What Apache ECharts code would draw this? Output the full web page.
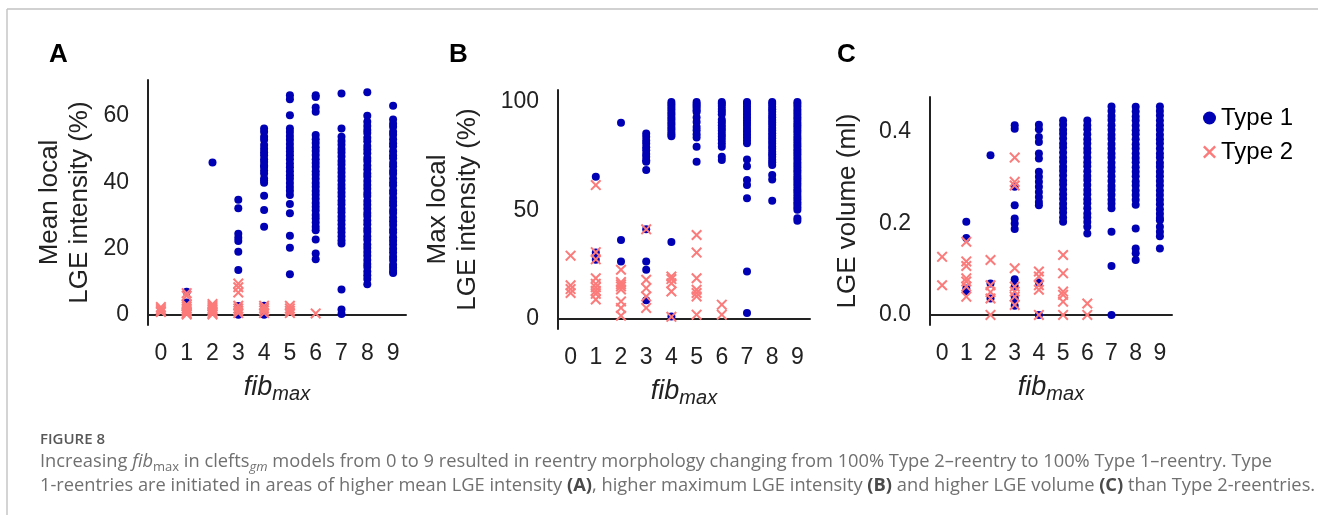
<!DOCTYPE html>
<html>
<head>
<meta charset="UTF-8">
<title>Figure 8</title>
<script src="https://cdn.jsdelivr.net/npm/echarts@6/dist/echarts.min.js"></script>
<style>
  html, body { margin: 0; padding: 0; background: #fff; }
  #chart { width: 1318px; height: 515px; }
</style>
</head>
<body>
<div id="chart"></div>
<script>
// fib_max categories
var fibCats = ['0', '1', '2', '3', '4', '5', '6', '7', '8', '9'];

// y tick labels
var ticksA = [0, 20, 40, 60];
var ticksB = [0, 50, 100];
var ticksC = [0, 0.2, 0.4];

// Panel A: mean local LGE intensity (%), one list per fib_max
var meanT1 = [
    [],
    [7.0, 3.8],
    [46.0],
    [34.8, 32.2, 24.5, 23.3, 22.3, 19.1, 13.6, 2.7, 0.1],
    [56.3, 55.3, 53.8, 52.9, 51.3, 50.2, 49.1, 48.2, 47.0, 46.2, 45.1, 44.7, 43.6, 42.7, 41.2, 40.6, 39.9, 36.0, 31.7, 26.6, 2.8, 0.1],
    [66.3, 65.1, 60.3, 56.3, 55.2, 54.0, 52.9, 51.6, 50.4, 49.3, 48.2, 47.0, 45.7, 44.6, 43.4, 42.2, 41.1, 39.8, 38.6, 37.5, 36.2, 33.5, 30.7, 23.9, 20.3, 12.3],
    [66.3, 65.8, 62.6, 61.3, 54.3, 53.0, 51.9, 50.6, 49.5, 48.3, 47.0, 45.9, 44.7, 43.4, 42.3, 41.1, 39.8, 38.7, 37.4, 36.3, 35.1, 33.8, 32.7, 31.5, 30.2, 29.1, 27.9, 26.6, 25.6, 22.8, 18.6, 16.8],
    [66.8, 56.3, 53.8, 52.5, 51.4, 50.1, 49.0, 47.8, 46.5, 45.4, 44.1, 43.0, 41.8, 40.6, 39.3, 38.2, 37.0, 35.8, 34.5, 33.4, 32.1, 31.0, 29.7, 28.6, 27.4, 26.1, 25.0, 23.8, 22.6, 21.6, 7.7, 1.7, 0.3],
    [67.2, 60.1, 58.3, 57.0, 55.8, 54.9, 53.5, 52.4, 51.0, 49.9, 48.8, 47.4, 46.5, 45.1, 44.0, 42.7, 41.8, 40.4, 39.2, 38.1, 36.8, 35.9, 34.4, 33.3, 32.1, 30.8, 29.9, 28.5, 27.4, 26.0, 25.1, 23.8, 22.7, 21.3, 20.2, 19.0, 17.9, 16.6, 15.4, 14.5, 13.1, 12.0, 10.9, 9.3],
    [63.1, 59.0, 57.7, 56.8, 55.3, 54.4, 53.0, 51.8, 50.9, 49.4, 48.2, 47.3, 45.9, 44.9, 43.5, 42.6, 41.2, 40.0, 39.1, 37.6, 36.7, 35.3, 34.2, 33.1, 31.7, 30.8, 29.4, 28.3, 27.2, 25.8, 24.9, 23.5, 22.4, 21.3, 20.0, 18.9, 17.6, 16.6, 15.2, 14.3, 13.3, 12.7]
];
var meanT2 = [
    [2.4, 1.8, 1.2, 0.9],
    [6.6, 5.8, 3.2, 2.6, 2.0, 1.5, 1.0, 0.5, 0.2],
    [3.3, 2.7, 2.1, 1.6, 1.1, 0.6, 0.2],
    [9.5, 8.4, 6.8, 2.8, 2.0, 1.3, 0.6],
    [2.8, 2.1, 1.4, 0.6],
    [2.8, 2.0, 1.3, 0.6],
    [0.5],
    [], [], []
];

// Panel B: max local LGE intensity (%)
var maxT1 = [
    [],
    [65.5, 30.6, 27.3],
    [90.4, 36.4, 26.5],
    [85.5, 84.0, 82.2, 80.9, 79.1, 77.8, 76.0, 74.7, 73.1, 72.4, 68.6, 41.3, 26.5, 22.7, 8.6],
    [100, 98.9, 97.8, 96.6, 95.4, 94.3, 93.1, 92.0, 90.8, 89.7, 88.5, 87.4, 86.2, 85.1, 84.2, 35.5, 1.2],
    [100, 99.1, 98.2, 97.3, 96.2, 95.4, 92.8, 90.8, 88.5, 87.0, 85.1, 83.6, 79.3, 72.4],
    [100, 99.2, 98.1, 96.8, 95.6, 94.3, 91.8, 90.6, 89.3, 88.0, 86.8, 85.4, 84.1, 82.6, 81.0, 79.3, 74.7, 73.2],
    [100, 99.3, 98.0, 96.7, 95.5, 94.2, 92.8, 91.6, 90.3, 89.0, 87.7, 86.4, 85.0, 83.7, 82.3, 81.0, 73.5, 70.4, 64.0, 61.7, 55.6, 21.9, 2.8],
    [100, 99.1, 97.8, 96.6, 95.5, 94.1, 93.0, 91.7, 90.5, 89.4, 88.0, 86.9, 85.6, 84.4, 83.3, 82.0, 80.8, 79.5, 78.4, 77.1, 75.9, 74.7, 73.4, 72.2, 71.0, 66.3, 64.3, 54.5],
    [100, 99.0, 97.9, 96.5, 95.4, 94.2, 92.9, 91.8, 90.4, 89.3, 88.1, 86.8, 85.7, 84.3, 83.2, 82.0, 80.7, 79.6, 78.2, 77.1, 75.9, 74.6, 73.5, 72.1, 71.0, 69.8, 68.5, 67.4, 66.0, 64.9, 63.7, 62.4, 61.3, 59.9, 58.8, 57.6, 56.3, 55.2, 53.8, 52.7, 51.5, 50.3, 46.4, 45.3]
];
var maxT2 = [
    [29.2, 15.5, 13.8, 12.0],
    [61.7, 30.8, 27.5, 18.8, 16.2, 14.6, 13.0, 11.6, 9.0],
    [22.7, 17.0, 16.0, 15.0, 13.6, 8.1, 5.1, 1.5],
    [41.3, 18.1, 14.2, 10.4, 5.1],
    [19.6, 18.4, 16.5, 12.7, 1.0],
    [38.7, 30.6, 18.8, 13.5, 12.0, 10.4, 2.0],
    [6.6, 2.0],
    [], [], []
];

// Panel C: LGE volume (ml)
var volT1 = [
    [],
    [0.204, 0.168, 0.058, 0.052],
    [0.349, 0.069, 0.036],
    [0.415, 0.407, 0.280, 0.240, 0.211, 0.200, 0.188, 0.078, 0.062, 0.040, 0.033, 0.020],
    [0.416, 0.406, 0.389, 0.378, 0.353, 0.342, 0.313, 0.302, 0.291, 0.280, 0.269, 0.258, 0.247, 0.240, 0.071, 0.000],
    [0.425, 0.416, 0.405, 0.396, 0.386, 0.375, 0.366, 0.355, 0.344, 0.335, 0.324, 0.315, 0.305, 0.294, 0.285, 0.274, 0.264, 0.254, 0.243, 0.233, 0.224, 0.213, 0.204],
    [0.425, 0.415, 0.406, 0.395, 0.384, 0.375, 0.364, 0.355, 0.344, 0.334, 0.325, 0.314, 0.304, 0.295, 0.284, 0.273, 0.264, 0.253, 0.244, 0.233, 0.222, 0.213, 0.203, 0.193, 0.178],
    [0.456, 0.446, 0.435, 0.426, 0.415, 0.405, 0.394, 0.385, 0.374, 0.364, 0.353, 0.344, 0.333, 0.323, 0.314, 0.303, 0.293, 0.282, 0.273, 0.263, 0.252, 0.243, 0.233, 0.182, 0.107, 0.000],
    [0.455, 0.445, 0.434, 0.425, 0.414, 0.404, 0.395, 0.384, 0.373, 0.364, 0.353, 0.343, 0.334, 0.323, 0.313, 0.303, 0.292, 0.283, 0.272, 0.262, 0.252, 0.241, 0.189, 0.145, 0.135, 0.120],
    [0.456, 0.446, 0.436, 0.425, 0.415, 0.405, 0.394, 0.384, 0.375, 0.364, 0.353, 0.344, 0.333, 0.324, 0.313, 0.303, 0.293, 0.283, 0.272, 0.262, 0.252, 0.242, 0.231, 0.221, 0.212, 0.207, 0.193, 0.182, 0.172, 0.145]
];
var volT2 = [
    [0.127, 0.065],
    [0.160, 0.117, 0.107, 0.080, 0.073, 0.062, 0.040],
    [0.120, 0.065, 0.050, 0.036, 0.000],
    [0.344, 0.291, 0.283, 0.102, 0.062, 0.051, 0.040, 0.022],
    [0.095, 0.084, 0.065, 0.055, 0.000],
    [0.131, 0.091, 0.051, 0.044, 0.029, 0.000],
    [0.025, 0.000],
    [], [], []
];

var BLUE = '#0000b4';
var PINK = '#fb7b7b';
var INK = '#222';
var FONT = 'Liberation Sans';
var CAPFONT = 'Open Sans';
var CAPGREY = '#707070';
var CROSS = 'path://M1.3,0L5,3.7L8.7,0L10,1.3L6.3,5L10,8.7L8.7,10L5,6.3L1.3,10L0,8.7L3.7,5L0,1.3Z';

function toPoints(cols) {
    var out = [];
    cols.forEach(function (vals, i) {
        vals.forEach(function (v) { out.push([i, v]); });
    });
    return out;
}

var fibName = {
    name: '{f|fib}{m|max}',
    nameLocation: 'middle',
    nameGap: 49,
    nameTextStyle: {
        rich: {
            f: { fontFamily: FONT, fontStyle: 'italic', fontSize: 27, lineHeight: 30, verticalAlign: 'top', color: INK },
            m: { fontFamily: FONT, fontStyle: 'italic', fontSize: 20, lineHeight: 20, verticalAlign: 'bottom', color: INK }
        }
    }
};

function xAx(gi) {
    return Object.assign({
        gridIndex: gi,
        type: 'category',
        data: fibCats,
        boundaryGap: true,
        axisLine: { lineStyle: { color: INK, width: 2 } },
        axisTick: { show: false },
        splitLine: { show: false },
        axisLabel: { fontFamily: FONT, fontSize: 23, color: INK, margin: 17, interval: 0 }
    }, fibName);
}

function yAx(gi, name, gap, min, max, ticks, dec) {
    return {
        gridIndex: gi,
        type: 'value',
        min: min,
        max: max,
        name: name,
        nameLocation: 'middle',
        nameGap: gap,
        nameTextStyle: { fontFamily: FONT, fontSize: 26, lineHeight: 30, color: INK },
        axisLine: { show: true, lineStyle: { color: INK, width: 2 } },
        axisTick: { show: false },
        splitLine: { show: false },
        axisLabel: {
            customValues: ticks,
            fontFamily: FONT, fontSize: 23, color: INK, margin: 19,
            formatter: function (v) { return dec ? v.toFixed(dec) : String(v); }
        }
    };
}

function t1(gi, cols) {
    return {
        name: 'Type 1', type: 'scatter', xAxisIndex: gi, yAxisIndex: gi,
        symbol: 'circle', symbolSize: 8,
        itemStyle: { color: BLUE, opacity: 1 },
        data: toPoints(cols)
    };
}
function t2(gi, cols) {
    return {
        name: 'Type 2', type: 'scatter', xAxisIndex: gi, yAxisIndex: gi,
        symbol: CROSS, symbolSize: 11,
        itemStyle: { color: PINK, opacity: 1 },
        data: toPoints(cols)
    };
}

var capRich = {
    i: { fontFamily: CAPFONT, fontStyle: 'italic', fontSize: 18.3, lineHeight: 24, color: CAPGREY },
    s: { fontFamily: CAPFONT, fontSize: 13, lineHeight: 14, verticalAlign: 'bottom', color: CAPGREY },
    si: { fontFamily: CAPFONT, fontStyle: 'italic', fontSize: 13, lineHeight: 14, verticalAlign: 'bottom', color: CAPGREY },
    b: { fontFamily: CAPFONT, fontWeight: 'bold', fontSize: 18.3, lineHeight: 24, color: '#4a4a4a' }
};
var capStyle = { fontFamily: CAPFONT, fontSize: 18.3, lineHeight: 24, fontWeight: 'normal', color: CAPGREY, rich: capRich };

function letter(txt, x) {
    return { text: txt, left: x, top: 42, padding: 0,
        textStyle: { fontFamily: FONT, fontSize: 26, fontWeight: 'bold', color: '#000' } };
}

var chart = echarts.init(document.getElementById('chart'), null, { renderer: 'canvas' });

var option = {
    animation: false,
    backgroundColor: '#fff',
    title: [
        letter('A', 49),
        letter('B', 449),
        letter('C', 837),
        { text: 'FIGURE 8', left: 40, top: 432, padding: 0,
          textStyle: { fontFamily: CAPFONT, fontSize: 15, fontWeight: 600, color: '#585858' } },
        { text: 'Increasing {i|fib}{s|max} in clefts{si|gm} models from 0 to 9 resulted in reentry morphology changing from 100% Type 2\u2013reentry to 100% Type 1\u2013reentry. Type',
          left: 40, top: 450, padding: 0, textStyle: capStyle },
        { text: '1-reentries are initiated in areas of higher mean LGE intensity {b|(A)}, higher maximum LGE intensity {b|(B)} and higher LGE volume {b|(C)} than Type 2-reentries.',
          left: 40, top: 474, padding: 0, textStyle: capStyle }
    ],
    legend: {
        orient: 'vertical',
        left: 1198,
        top: 101,
        itemWidth: 13,
        itemHeight: 13,
        itemGap: 10,
        itemTextGap: 13,
        data: ['Type 1', 'Type 2'],
        textStyle: { fontFamily: FONT, fontSize: 24, color: '#000' }
    },
    grid: [
        { left: 148, top: 80, width: 258, height: 245 },
        { left: 558, top: 90, width: 252, height: 239 },
        { left: 930, top: 97, width: 242, height: 228 }
    ],
    xAxis: [xAx(0), xAx(1), xAx(2)],
    yAxis: [
        yAx(0, 'Mean local\nLGE intensity (%)', 53, -3, 70.9, ticksA, 0),
        yAx(1, 'Max local\nLGE intensity (%)', 75, -4.6, 105.5, ticksB, 0),
        yAx(2, 'LGE volume (ml)', 67, -0.022, 0.4765, ticksC, 1)
    ],
    series: [
        t1(0, meanT1), t2(0, meanT2),
        t1(1, maxT1), t2(1, maxT2),
        t1(2, volT1), t2(2, volT2)
    ],
    graphic: [
        { type: 'line', silent: true, shape: { x1: 7, y1: 9, x2: 1318, y2: 9 }, style: { stroke: '#c2c2c2', lineWidth: 1.4 } },
        { type: 'line', silent: true, shape: { x1: 7, y1: 9, x2: 7, y2: 515 }, style: { stroke: '#c2c2c2', lineWidth: 1.4 } }
    ]
};

chart.setOption(option);
</script>
</body>
</html>
